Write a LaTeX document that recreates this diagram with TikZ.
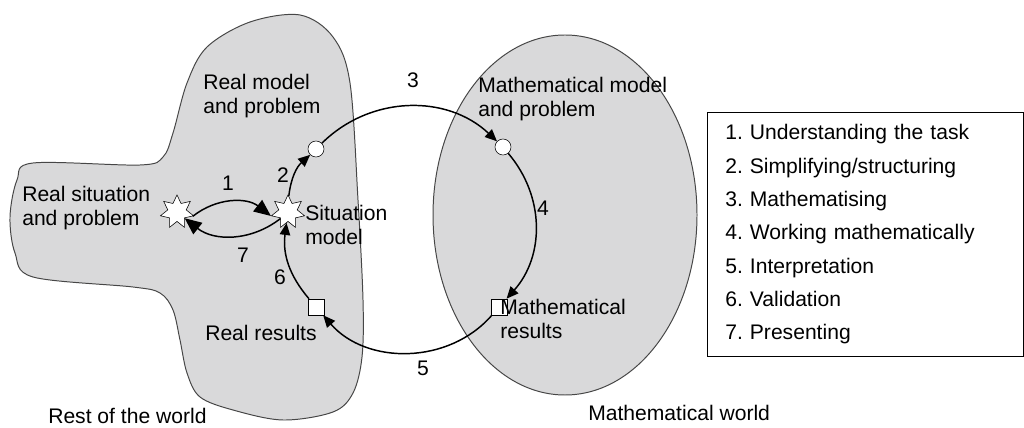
\documentclass[tikz,border=0pt]{standalone}
\usepackage{fontspec}
\setmainfont{Liberation Sans}
\usepackage{xcolor}
\usepackage{tikz}
\usetikzlibrary{shapes.geometric, arrows.meta, positioning}
\definecolor{worldgray}{RGB}{217,217,218}
\definecolor{rimgray}{RGB}{70,70,70}
\frenchspacing

\begin{document}
\begin{tikzpicture}[x=0.025cm, y=0.025cm, >={Triangle[length=0.3cm, width=0.26cm]}, font=\fontsize{15}{17.7}\selectfont]
  \tikzstyle{world} = [draw=rimgray, line width=0.7pt, fill=worldgray]
  \tikzstyle{burst} = [star, star points=7, star point ratio=1.8, draw, thin, fill=white, minimum size=0.85cm, inner sep=0pt]
  \tikzstyle{ring} = [circle, draw, thin, fill=white, minimum size=0.4cm, inner sep=0pt]
  \tikzstyle{box} = [rectangle, draw, thin, fill=white, minimum size=0.4cm, inner sep=0pt]
  \tikzstyle{phase} = [->, line width=1.05pt]
  \tikzstyle{label} = [align=left, inner sep=0pt]
  \useasboundingbox (0,0) rectangle (1024,427);

  \draw[world] plot[smooth cycle, tension=0.55] coordinates {
    (207,380) (250,405) (300,412) (333,390) (350,344) (358,227) (363,127)
    (362,70) (353,34) (333,15) (283,7) (233,17) (200,30) (187,54) (180,87)
    (173,117) (160,134) (133,140) (33,150) (15,174) (10,210) (17,247)
    (33,264) (140,262) (163,270) (173,294) (187,344)};
  \draw[world] (565,212) ellipse [x radius=132, y radius=180];

  \node [burst] (sreal) at (177,215) {};
  \node [burst] (ssit) at (288,215) {};
  \node [ring] (mreal) at (316,278) {};
  \node [ring] (mmath) at (503,280) {};
  \node [box] (rmath) at (499,120) {};
  \node [box] (rreal) at (316,120) {};

  \node [label, anchor=west] (lsit) at (22,219) {Real situation\\and problem};
  \node [label, anchor=west] (lmodel) at (203,331) {Real model\\and problem};
  \node [label, anchor=west] (lsitmod) at (305,202) {Situation\\model};
  \node [label, anchor=west] (lmath) at (478,328) {Mathematical model\\and problem};
  \node [label, anchor=west] (lmres) at (500,108) {Mathematical\\results};
  \node [label, anchor=west] (lres) at (205,94) {Real results};
  \node [label, anchor=base west] (rest) at (48,4) {Rest of the world};
  \node [label, anchor=base west] (mworld) at (588,7) {Mathematical world};

  \draw[phase, >={Triangle[length=0.42cm, width=0.36cm]}] (sreal.-15) to[bend left=38] (ssit.193);
  \draw[phase, >={Triangle[length=0.42cm, width=0.36cm]}] (ssit.221) to[bend left=38] (sreal.-39);
  \draw[phase] (ssit) to[bend left=21] (mreal);
  \draw[phase] (mreal) to[bend left=44] (mmath);
  \draw[phase] (mmath) to[bend left=41] (rmath);
  \draw[phase] (rmath) to[bend left=49] (rreal);
  \draw[phase] (rreal) to[bend left=24] (ssit);

  \node (n1) at (228,244) {1};
  \node (n2) at (283,252) {2};
  \node (n3) at (413,347) {3};
  \node (n4) at (543,219) {4};
  \node (n5) at (423,59) {5};
  \node (n6) at (280,150) {6};
  \node (n7) at (243,172) {7};

  \node [draw, thin, anchor=north west, text width=7cm, align=left, inner xsep=0.45cm, inner ysep=0.31cm, font=\fontsize{15}{23.7}\selectfont] (key) at (707,315)
    {1. Understanding the task\\2. Simplifying/structuring\\3. Mathematising\\4. Working mathematically\\5. Interpretation\\6. Validation\\7. Presenting};
\end{tikzpicture}
\end{document}
